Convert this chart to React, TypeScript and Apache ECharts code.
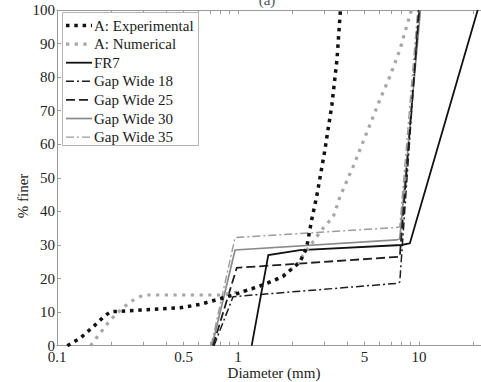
import React, { useEffect, useRef } from "react";
import * as echarts from "echarts";

// Particle diameters (mm) and percentage finer for each grading curve
const expDiam = [0.114, 0.134, 0.159, 0.181, 0.197, 0.288, 0.479, 0.617, 0.939, 1.37, 1.77, 2.2, 2.39, 2.55, 2.73, 3.02, 3.3, 3.52, 3.68];
const expPct = [0, 2.2, 5.7, 8.6, 10.1, 10.6, 11.3, 12.3, 15.1, 18.1, 20.6, 25.0, 29.0, 37.4, 44.9, 58.3, 71.7, 85.1, 100];

const numDiam = [0.153, 0.173, 0.197, 0.224, 0.254, 0.3, 0.617, 0.8, 1.165, 1.635, 2.11, 2.29, 2.6, 2.95, 3.36, 3.66, 4.32, 5.13, 6.07, 6.89, 7.83, 9.08];
const numPct = [0, 3.7, 7.7, 10.6, 13.1, 15.1, 15.1, 15.1, 16.6, 19.6, 24.0, 27.0, 31.0, 35.0, 38.4, 44.4, 53.3, 63.3, 73.2, 80.1, 88.1, 100];

const fr7Diam = [1.19, 1.47, 2.2, 8.0, 8.9, 21.1];
const fr7Pct = [0, 27.0, 28.5, 30.0, 30.5, 100];

const gap18Diam = [0.737, 0.939, 7.66, 7.83, 9.96];
const gap18Pct = [0, 14.6, 18.6, 19.0, 100];

const gap25Diam = [0.728, 0.984, 7.83, 10.03];
const gap25Pct = [0, 23.2, 26.5, 100];

const gap30Diam = [0.719, 0.963, 7.5, 7.83, 10.18];
const gap30Pct = [0, 28.5, 31.5, 31.8, 100];

const gap35Diam = [0.71, 0.963, 7.5, 7.83, 9.84];
const gap35Pct = [0, 32.2, 35.2, 35.4, 100];

const xLabelValues = [0.1, 0.5, 1, 5, 10];
const xTickValues = [0.1, 0.2, 0.3, 0.4, 0.5, 0.6, 0.7, 0.8, 0.9, 1, 2, 3, 4, 5, 6, 7, 8, 9, 10, 20];

const SERIF = "Times New Roman, Liberation Serif, DejaVu Serif, serif";
const AXIS_GRAY = "#9a9a9a";

type Curve = {
  name: string;
  xs: number[];
  ys: number[];
  color: string;
  width: number;
  dash: number[] | null;
  z: number;
};

// Legend order top to bottom
const curves: Curve[] = [
  { name: "A: Experimental", xs: expDiam, ys: expPct, color: "#111111", width: 3.5, dash: [3.5, 4.8], z: 6 },
  { name: "A: Numerical", xs: numDiam, ys: numPct, color: "#a6a6a6", width: 3.2, dash: [3.2, 5.5], z: 5 },
  { name: "FR7", xs: fr7Diam, ys: fr7Pct, color: "#111111", width: 1.8, dash: null, z: 4 },
  { name: "Gap Wide 18", xs: gap18Diam, ys: gap18Pct, color: "#1e1e1e", width: 1.5, dash: [8, 3, 2, 3], z: 3 },
  { name: "Gap Wide 25", xs: gap25Diam, ys: gap25Pct, color: "#1e1e1e", width: 1.8, dash: [9, 4], z: 3 },
  { name: "Gap Wide 30", xs: gap30Diam, ys: gap30Pct, color: "#8a8a8a", width: 1.7, dash: null, z: 2 },
  { name: "Gap Wide 35", xs: gap35Diam, ys: gap35Pct, color: "#9c9c9c", width: 1.4, dash: [8, 3, 2, 3], z: 2 },
];

function pairs(xs: number[], ys: number[]) {
  return xs.map((x, i) => [x, ys[i]]);
}

function textStyle(text: string, fill: string, align: string, vAlign: string) {
  return {
    text,
    fontFamily: SERIF,
    fontSize: 15,
    fill,
    textAlign: align,
    textVerticalAlign: vAlign,
  };
}

// Boxed legend: line sample followed by its label, one row per curve
function legendGraphics() {
  const boxLeft = 62;
  const boxTop = 12;
  const boxRight = 198;
  const boxBottom = 145;
  const firstRow = 25.5;
  const rowStep = 18.6;
  const els: any[] = [
    {
      type: "rect",
      shape: { x: boxLeft + 0.5, y: boxTop + 0.5, width: boxRight - boxLeft, height: boxBottom - boxTop },
      style: { fill: "#ffffff", stroke: "#b4b4b4", lineWidth: 1 },
      z: 20,
    },
  ];
  curves.forEach((c, i) => {
    const y = firstRow + i * rowStep;
    els.push({
      type: "line",
      shape: { x1: 66, y1: y, x2: 92, y2: y },
      style: { stroke: c.color, lineWidth: c.width, lineDash: c.dash || undefined, lineCap: "butt" },
      z: 21,
    });
    els.push({
      type: "text",
      x: 94,
      y: y,
      style: textStyle(c.name, "#1a1a1a", "left", "middle"),
      z: 21,
    });
  });
  return els;
}

export default function App() {
  const ref = useRef<HTMLDivElement>(null);

  useEffect(() => {
    if (!ref.current) return;
    const chart = echarts.init(ref.current, null, { renderer: "svg" });

    const xAxisBase = {
      type: "log",
      logBase: 10,
      min: 0.1,
      max: 22,
      splitLine: { show: false },
      axisLine: { show: true, lineStyle: { color: AXIS_GRAY, width: 1 } },
      axisTick: {
        show: true,
        inside: true,
        length: 4,
        customValues: xTickValues,
        lineStyle: { color: AXIS_GRAY },
      },
      minorTick: { show: false },
    };

    chart.setOption({
      animation: false,
      backgroundColor: "#ffffff",
      textStyle: { fontFamily: SERIF },
      grid: { left: 57, top: 10, right: -1, bottom: 36.3, containLabel: false },
      xAxis: [
        {
          ...xAxisBase,
          position: "bottom",
          axisLabel: {
            show: true,
            customValues: xLabelValues,
            margin: 4,
            fontFamily: SERIF,
            fontSize: 15,
            color: "#222",
            formatter: (v: number) => String(+Number(v).toPrecision(3)),
          },
        },
        {
          ...xAxisBase,
          position: "top",
          axisLabel: { show: false },
        },
      ],
      yAxis: [
        {
          type: "value",
          min: 0,
          max: 100,
          interval: 10,
          splitLine: { show: false },
          axisLine: { show: true, lineStyle: { color: AXIS_GRAY, width: 1 } },
          axisTick: { show: true, inside: true, length: 4, lineStyle: { color: AXIS_GRAY } },
          axisLabel: { margin: 2, fontFamily: SERIF, fontSize: 15, color: "#222" },
        },
      ],
      graphic: [
        {
          type: "text",
          x: 274,
          y: 372.7,
          style: textStyle("Diameter (mm)", "#222", "center", "middle"),
        },
        {
          type: "text",
          x: 23,
          y: 196,
          rotation: Math.PI / 2,
          style: textStyle("% finer", "#222", "center", "middle"),
        },
        {
          type: "text",
          x: 267,
          y: 7.5,
          style: textStyle("(a)", "#555", "center", "bottom"),
        },
        ...legendGraphics(),
      ],
      series: curves
        .slice()
        .reverse()
        .map((c) => ({
          name: c.name,
          type: "line",
          data: pairs(c.xs, c.ys),
          symbol: "none",
          z: c.z,
          lineStyle: { color: c.color, width: c.width, type: c.dash || "solid", cap: "butt", join: "miter" },
          itemStyle: { color: c.color },
        })),
    });

    return () => chart.dispose();
  }, []);

  return (
    <div
      ref={ref}
      style={{ position: "fixed", left: 0, top: 0, width: 481, height: 382, background: "#fff" }}
    />
  );
}
